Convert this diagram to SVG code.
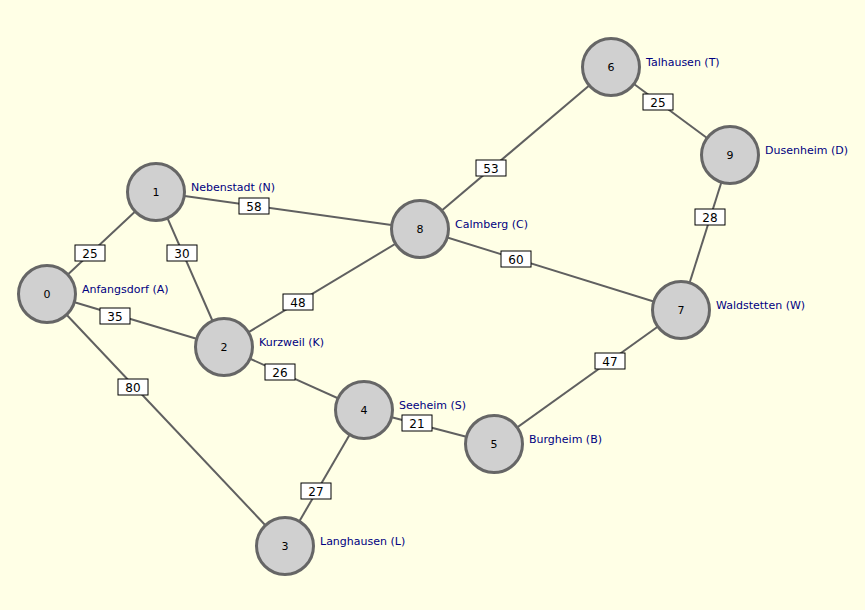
<svg xmlns="http://www.w3.org/2000/svg" width="865" height="610" viewBox="0 0 865 610">
<style>
.bg{fill:#FFFFE6}
.e{stroke:#606060;stroke-width:2;fill:none}
.lb rect{fill:#FFFFFF;stroke:#000000;stroke-width:1}
.lb text{font-family:"DejaVu Sans",Verdana,sans-serif;font-size:12px;fill:#000000;text-anchor:middle}
.n circle{fill:#D0D0D0;stroke:#666666;stroke-width:3}
.n .num{font-family:"DejaVu Sans",Verdana,sans-serif;font-size:11px;fill:#000000;text-anchor:middle}
.n .name{font-family:"DejaVu Sans",Verdana,sans-serif;font-size:11px;fill:#000080}
</style>
<rect class="bg" x="0" y="0" width="865" height="610"/>
<g id="connectors">
<line class="e" x1="47" y1="294" x2="156" y2="192"/>
<line class="e" x1="47" y1="294" x2="224" y2="347"/>
<line class="e" x1="47" y1="294" x2="285" y2="546"/>
<line class="e" x1="156" y1="192" x2="224" y2="347"/>
<line class="e" x1="156" y1="192" x2="420" y2="229"/>
<line class="e" x1="224" y1="347" x2="420" y2="229"/>
<line class="e" x1="224" y1="347" x2="364" y2="410"/>
<line class="e" x1="285" y1="546" x2="364" y2="410"/>
<line class="e" x1="364" y1="410" x2="494" y2="444"/>
<line class="e" x1="494" y1="444" x2="681" y2="310"/>
<line class="e" x1="420" y1="229" x2="611" y2="67"/>
<line class="e" x1="420" y1="229" x2="681" y2="310"/>
<line class="e" x1="611" y1="67" x2="730" y2="155"/>
<line class="e" x1="730" y1="155" x2="681" y2="310"/>
<g class="lb">
<rect x="75" y="245" width="30" height="16"/><text x="90" y="257.5">25</text>
<rect x="167" y="245" width="30" height="16"/><text x="182" y="257.5">30</text>
<rect x="100" y="308" width="30" height="16"/><text x="115" y="320.5">35</text>
<rect x="239" y="198" width="30" height="16"/><text x="254" y="210.5">58</text>
<rect x="283" y="294" width="30" height="16"/><text x="298" y="306.5">48</text>
<rect x="265" y="364" width="30" height="16"/><text x="280" y="376.5">26</text>
<rect x="118" y="379" width="30" height="16"/><text x="133" y="391.5">80</text>
<rect x="402" y="415" width="30" height="16"/><text x="417" y="427.5">21</text>
<rect x="301" y="483" width="30" height="16"/><text x="316" y="495.5">27</text>
<rect x="595" y="353" width="30" height="16"/><text x="610" y="365.5">47</text>
<rect x="476" y="160" width="30" height="16"/><text x="491" y="172.5">53</text>
<rect x="643" y="94" width="30" height="16"/><text x="658" y="106.5">25</text>
<rect x="695" y="209" width="30" height="16"/><text x="710" y="221.5">28</text>
<rect x="501" y="251" width="30" height="16"/><text x="516" y="263.5">60</text>
</g>
</g>
<g id="node0" class="n"><circle cx="47" cy="294" r="28.5"/><text class="num" x="47" y="298">0</text><text class="name" x="82" y="293">Anfangsdorf (A)</text></g>
<g id="node1" class="n"><circle cx="156" cy="192" r="28.5"/><text class="num" x="156" y="196">1</text><text class="name" x="191" y="191">Nebenstadt (N)</text></g>
<g id="node2" class="n"><circle cx="224" cy="347" r="28.5"/><text class="num" x="224" y="351">2</text><text class="name" x="259" y="346">Kurzweil (K)</text></g>
<g id="node3" class="n"><circle cx="285" cy="546" r="28.5"/><text class="num" x="285" y="550">3</text><text class="name" x="320" y="545">Langhausen (L)</text></g>
<g id="node4" class="n"><circle cx="364" cy="410" r="28.5"/><text class="num" x="364" y="414">4</text><text class="name" x="399" y="409">Seeheim (S)</text></g>
<g id="node5" class="n"><circle cx="494" cy="444" r="28.5"/><text class="num" x="494" y="448">5</text><text class="name" x="529" y="443">Burgheim (B)</text></g>
<g id="node6" class="n"><circle cx="611" cy="67" r="28.5"/><text class="num" x="611" y="71">6</text><text class="name" x="646" y="66">Talhausen (T)</text></g>
<g id="node7" class="n"><circle cx="681" cy="310" r="28.5"/><text class="num" x="681" y="314">7</text><text class="name" x="716" y="309">Waldstetten (W)</text></g>
<g id="node8" class="n"><circle cx="420" cy="229" r="28.5"/><text class="num" x="420" y="233">8</text><text class="name" x="455" y="228">Calmberg (C)</text></g>
<g id="node9" class="n"><circle cx="730" cy="155" r="28.5"/><text class="num" x="730" y="159">9</text><text class="name" x="765" y="154">Dusenheim (D)</text></g>
</svg>
